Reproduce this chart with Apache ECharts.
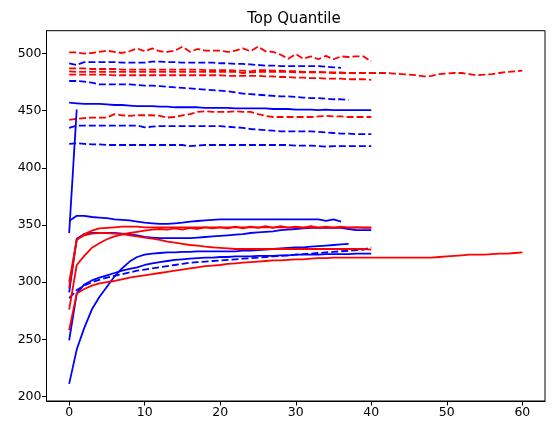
<!DOCTYPE html>
<html>
<head>
<meta charset="utf-8">
<script src="https://cdn.jsdelivr.net/npm/echarts@6/dist/echarts.min.js"></script>
<style>
  html, body { margin: 0; padding: 0; background: #fff; }
  #chart { width: 552px; height: 433px; }
</style>
</head>
<body>
<div id="chart"></div>
<script>
// tick labels
var xTicks = [0, 10, 20, 30, 40, 50, 60];
var yTicks = [200, 250, 300, 350, 400, 450, 500];

// dashed lines, top group (index = x)
var redDashTop = [501, 501, 500, 500.5, 501.5, 502.5, 501.5, 500.5, 502, 504.5, 502, 504.5, 502, 501.5, 502.5, 506, 501.5, 504, 502.5, 502.5, 502.5, 501.5, 502.5, 504.5, 502, 506, 502, 501.5, 499, 495.5, 499.5, 495.5, 497.5, 495, 498, 495, 497.5, 497, 497.5, 497.5, 493];
var blueDashTop = [491.5, 490, 492.5, 492.5, 492.5, 492.5, 492.5, 492, 492, 492, 492, 493, 493, 492.5, 492.5, 492, 492, 492, 492, 492, 491.5, 491.5, 491, 491, 490.5, 490, 489.5, 489.5, 489, 489, 489, 489, 489, 489, 488.5, 488, 487.5];
var redDashA = [487, 487, 487, 486.5, 486.5, 486.5, 486.5, 486, 486, 486, 486, 486, 486, 486, 486, 486, 486, 486, 485.5, 485.5, 485.5, 485.5, 485, 485, 484.5, 485.5, 485.5, 485, 485, 484.5, 484.5, 484, 484, 484, 483.5, 483.5, 483.5, 483, 483, 483, 483];
var redDashLong = [484.5, 484, 484, 484, 484, 484, 484, 484, 484, 484, 484, 484, 484, 484, 484, 484, 484, 484, 484, 484, 484, 484, 484, 483, 483.5, 484, 484, 484, 484, 484, 483.5, 483.5, 483.5, 483.5, 483.5, 483, 483, 483, 483, 483, 483, 483, 483, 482.5, 482, 481.5, 481, 480, 480.5, 482, 482.5, 483, 483, 482, 481, 481.5, 482, 483, 484, 484.5, 485];
var redDashB = [481.5, 481.5, 481.5, 481.5, 481.5, 481.5, 481, 481, 481, 481, 481, 481, 481, 481, 481, 481, 481, 481, 481, 481, 481, 480.5, 480.5, 480.5, 480.5, 480.5, 480, 480, 479.5, 479.5, 479, 479, 478.5, 478.5, 478, 478, 478, 477.5, 477.5, 477.5, 477];
var blueDashB = [476, 476, 475.5, 474.5, 473, 473, 473, 473, 473, 472.5, 472, 472, 471.5, 471, 470.5, 470, 469.5, 469, 468.5, 468, 467.5, 467, 466, 465, 464.5, 464, 463.5, 463, 462.5, 462.5, 462, 461.5, 461, 461, 460.5, 460, 460, 459.5];
var blueSolidTop = [457, 456.5, 456, 456, 456, 455.5, 455, 455, 454.5, 454, 454, 454, 453.5, 453.5, 453, 453, 453, 453, 452.5, 452.5, 452.5, 452.5, 452, 452, 452, 452, 452, 451.5, 451.5, 451.5, 451, 451, 451, 450.5, 451, 450.5, 450.5, 450.5, 450.5, 450.5, 450.5];
var redDashC = [442, 443, 443.5, 444, 444, 444, 447, 446, 445.5, 446, 446, 446, 445.5, 444, 444.5, 446, 447, 449, 449.5, 449, 449, 449, 449.5, 449, 449, 447, 445.5, 444.5, 444.5, 444.5, 444.5, 444.5, 444.5, 445, 445.5, 445, 445, 444.5, 444.5, 444.5, 444.5];
var blueDashC = [435, 437, 437, 437, 437, 437, 437, 437, 437, 437, 435.5, 436, 436.5, 436.5, 436.5, 436.5, 436.5, 436.5, 436.5, 436.5, 436.5, 436, 435.5, 435, 434, 433.5, 433, 432.5, 432, 432, 432, 432, 432, 431.5, 431, 430.5, 430, 430, 429.5, 429.5, 429.5];
var blueDashD = [421, 421.5, 421, 420.5, 420.5, 420, 420, 420, 420, 420, 420, 420, 420, 420, 420, 420, 419, 419.5, 420, 420, 420, 420, 420, 420, 420, 420, 420, 420, 420, 420, 419.5, 419.5, 419.5, 419, 418.5, 419, 419, 419, 419, 419, 419];
var blueSpike = [343, 451];

// solid lines, bottom group
var blueB1 = [353.5, 358, 358, 357, 356.5, 356, 355, 354.5, 354, 353, 352, 351.5, 351, 351, 351.5, 352, 353, 353.5, 354, 354.5, 355, 355, 355, 355, 355, 355, 355, 355, 355, 355, 355, 355, 355, 355, 353.5, 355, 353];
var redR1 = [300, 337, 342, 345, 347, 347.5, 348, 348.5, 348.5, 348.5, 348, 348, 348, 348, 348, 348, 348, 348, 348, 348, 348, 348, 348, 348, 348, 348, 348, 348, 348, 348, 348, 348, 348, 348, 348, 348, 348, 348, 348, 348, 348];
var redR2 = [276, 315, 323, 330, 334, 337.5, 340, 341.5, 343, 344, 345, 346, 346.5, 346, 347, 346, 347.5, 346.5, 348, 347, 348, 347, 348.5, 347, 348.5, 347.5, 349, 347.5, 349, 347.5, 348.5, 347.5, 349, 347.5, 348.5, 347.5, 348.5, 347.5, 348, 347.5, 347.5];
var redR3 = [295, 337, 341, 342.5, 343, 343, 342.5, 342, 341, 340, 339, 338, 337, 335.5, 334.5, 333.5, 332.5, 332, 331, 330.5, 330, 329.5, 329, 329, 329, 329, 329, 329, 329, 329, 329, 329, 329, 329, 329, 329, 329, 329, 329, 329, 328.5];
var blueB2 = [291, 338, 342, 343, 343, 343, 343, 342.5, 342, 341, 339.5, 339, 338.5, 338.5, 338.5, 338.5, 338.5, 339, 339.5, 340, 340.5, 341, 341.5, 342, 343, 343.5, 344, 344.5, 345.5, 346, 346.5, 347, 347.5, 347.5, 347.5, 347.5, 347.5, 346.5, 345.5, 345.5, 345.5];
var blueB3 = [249, 290, 298, 301.5, 304, 306, 308, 310, 311.5, 313, 315, 316.5, 317.5, 318.5, 319.5, 320, 320.5, 321, 321.5, 321.5, 322, 322, 322.5, 322.5, 322.5, 323, 323, 323, 323.5, 323.5, 324, 324, 324, 324, 324.5, 324.5, 324.5, 324.5, 325, 325, 325];
var blueDashE = [286, 293, 297, 300, 302, 304, 305.5, 307, 308.5, 310, 311, 312, 313, 314, 315, 316, 317, 317.5, 318, 318.5, 319, 319.5, 320, 320.5, 321, 321.5, 322, 322.5, 323, 323.5, 324, 324.5, 325, 325.5, 326, 326.5, 327, 327.5, 328, 328.5, 330.5];
var blueB5 = [211, 241, 260, 276, 287, 296, 305, 312, 318, 322, 324, 325, 325.5, 326, 326, 326.5, 326.5, 327, 327, 327, 327, 327, 327, 327.5, 327.5, 328, 328.5, 329, 329.5, 330, 330.5, 330.5, 331, 331.5, 332, 332.5, 333, 333.5];
var redR4 = [258, 290, 294, 297, 299, 300, 301, 302.5, 304, 305, 306, 307, 308, 309, 310, 311, 312, 313, 314, 314.5, 315, 316, 316.5, 317, 317.5, 318, 318.5, 319, 319, 319.5, 320, 320, 320.5, 321, 321, 321.5, 321.5, 321.5, 321.5, 321.5, 321.5, 321.5, 321.5, 321.5, 321.5, 321.5, 321.5, 321.5, 321.5, 322, 322.5, 323, 323.5, 324, 324, 324, 324.5, 325, 325, 325.5, 326];

var DASH = [7, 3];

function makeLine(vals, color, dashed) {
    return {
        type: 'line',
        data: vals.map(function (v, i) { return [i, v]; }),
        showSymbol: false,
        symbol: 'none',
        color: color,
        lineStyle: { color: color, width: 1.8, type: dashed ? DASH : 'solid' },
        emphasis: { disabled: true }
    };
}

var chart = echarts.init(document.getElementById('chart'));
chart.setOption({
    animation: false,
    backgroundColor: '#fff',
    title: {
        text: 'Top Quantile',
        left: 289,
        textAlign: 'center',
        top: 7,
        textStyle: { fontSize: 15, fontWeight: 'normal', color: '#000', fontFamily: 'DejaVu Sans' }
    },
    grid: { left: 46.5, right: 7, top: 30.7, bottom: 32, show: true, borderColor: '#000', borderWidth: 1 },
    xAxis: {
        type: 'value', min: -3, max: 63,
        splitLine: { show: false },
        axisLine: { show: true, onZero: false, lineStyle: { color: '#000', width: 1 } },
        axisTick: { show: true, length: 4.5, customValues: xTicks, lineStyle: { color: '#000' } },
        axisLabel: { customValues: xTicks, color: '#000', fontSize: 12.5, margin: 5, fontFamily: 'DejaVu Sans' }
    },
    yAxis: {
        type: 'value', min: 196, max: 520,
        splitLine: { show: false },
        axisLine: { show: true, onZero: false, lineStyle: { color: '#000', width: 1 } },
        axisTick: { show: true, length: 4.5, customValues: yTicks, lineStyle: { color: '#000' } },
        axisLabel: { customValues: yTicks, color: '#000', fontSize: 12.5, margin: 5, fontFamily: 'DejaVu Sans' }
    },
    series: [
        makeLine(redDashTop, 'red', true),
        makeLine(blueDashTop, 'blue', true),
        makeLine(redDashA, 'red', true),
        makeLine(redDashLong, 'red', true),
        makeLine(redDashB, 'red', true),
        makeLine(blueDashB, 'blue', true),
        makeLine(blueSolidTop, 'blue', false),
        makeLine(redDashC, 'red', true),
        makeLine(blueDashC, 'blue', true),
        makeLine(blueDashD, 'blue', true),
        makeLine(blueSpike, 'blue', false),
        makeLine(blueB1, 'blue', false),
        makeLine(blueB2, 'blue', false),
        makeLine(blueB3, 'blue', false),
        makeLine(blueDashE, 'blue', true),
        makeLine(blueB5, 'blue', false),
        makeLine(redR3, 'red', false),
        makeLine(redR2, 'red', false),
        makeLine(redR1, 'red', false),
        makeLine(redR4, 'red', false)
    ]
});
</script>
</body>
</html>
